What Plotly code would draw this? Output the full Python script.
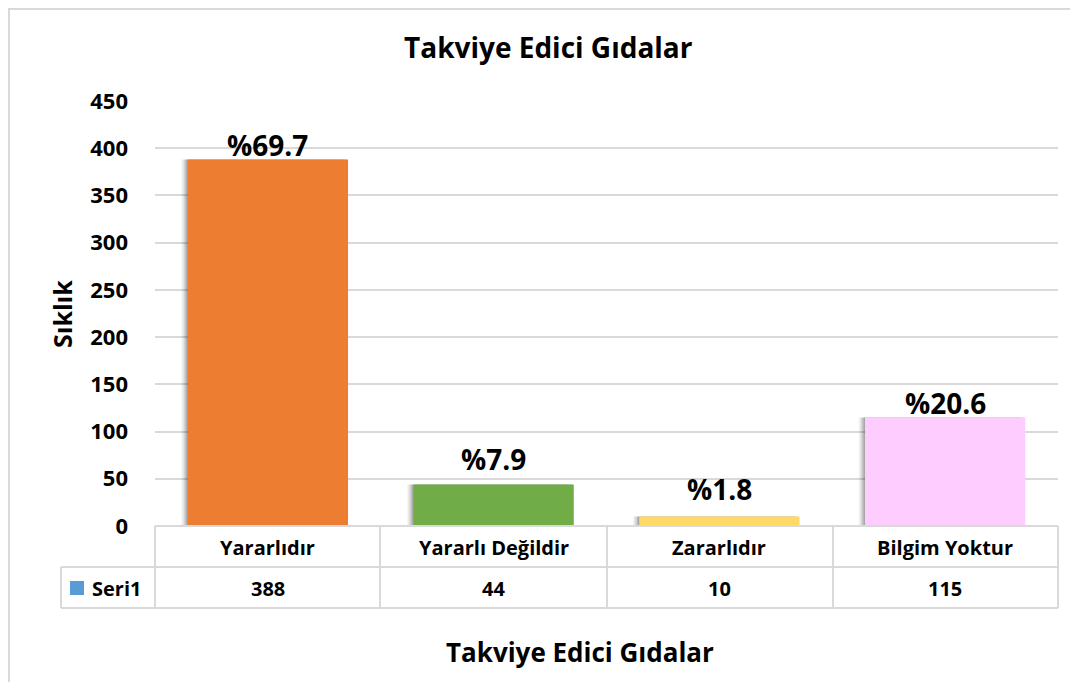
import plotly.graph_objects as go

categories = ["Yararlıdır", "Yararlı Değildir", "Zararlıdır", "Bilgim Yoktur"]
values = [388, 44, 10, 115]
colors = ["#ED7D31", "#70AD47", "#FFD966", "#FFCCFF"]
series_name = "Seri1"
y_ticks = [0, 50, 100, 150, 200, 250, 300, 350, 400, 450]

total = sum(values)
pct = ["%" + f"{v / total * 100:.1f}" for v in values]
label_gap = [15, 25, 28, 14]  # px between bar top and label centre

OFF = 8  # page body margin
W, H = 1078 - OFF, 682 - OFF
L, R, T, B = 155, 1058, 101, 526  # page pixel coordinates of plot area
pw, ph = R - L, B - T


def px(x):
    return (x - L) / pw


def py(y):
    return (B - y) / ph


FONT = "Open Sans"
fig = go.Figure()

# soft shadow on left
cat_px = pw / 4
for k, a in enumerate([0.04, 0.06, 0.08, 0.10, 0.12]):
    fig.add_trace(go.Bar(
        x=categories, y=values, width=0.71, offset=-0.355 - (1.3 * (5 - k)) / cat_px,
        marker=dict(color=f"rgba(0,0,0,{a})", line=dict(width=0)),
        hoverinfo="skip", showlegend=False,
    ))
fig.add_trace(go.Bar(
    x=categories, y=values, width=0.71, offset=-0.355,
    marker=dict(color=colors, line=dict(width=0)),
    showlegend=False, name=series_name,
))

annotations = []
for i, (c, v, p) in enumerate(zip(categories, values, pct)):
    annotations.append(dict(
        x=c, y=v, xref="x", yref="y", text=f"<b>{p}</b>", showarrow=False,
        yanchor="middle", yshift=label_gap[i],
        font=dict(family=FONT, size=28, color="#000"),
    ))
    annotations.append(dict(
        x=c, y=py(547), xref="x", yref="paper", text=f"<b>{c}</b>", showarrow=False,
        yanchor="middle", font=dict(family=FONT, size=20, color="#000"),
    ))
    annotations.append(dict(
        x=c, y=py(588), xref="x", yref="paper", text=f"<b>{v}</b>", showarrow=False,
        yanchor="middle", font=dict(family=FONT, size=20, color="#000"),
    ))

annotations.append(dict(
    x=px(90), y=py(588), xref="paper", yref="paper", text=f"<b>{series_name}</b>",
    showarrow=False, xanchor="left", yanchor="middle",
    font=dict(family=FONT, size=20, color="#000"),
))
annotations.append(dict(
    x=px(580), y=py(652), xref="paper", yref="paper", text="<b>Takviye Edici Gıdalar</b>",
    showarrow=False, xanchor="center", yanchor="middle",
    font=dict(family=FONT, size=26, color="#000"),
))
annotations.append(dict(
    x=px(62), y=py(314), xref="paper", yref="paper", text="<b>Sıklık</b>",
    showarrow=False, textangle=-90, xanchor="center", yanchor="middle",
    font=dict(family=FONT, size=25, color="#000"),
))
annotations.append(dict(
    x=px(548), y=py(47), xref="paper", yref="paper", text="<b>Takviye Edici Gıdalar</b>",
    showarrow=False, xanchor="center", yanchor="middle",
    font=dict(family=FONT, size=28, color="#000"),
))

grid = "#D9D9D9"
shapes = []


def hline(y, x0, x1):
    shapes.append(dict(type="line", xref="paper", yref="paper", x0=px(x0), x1=px(x1),
                       y0=py(y), y1=py(y), line=dict(color=grid, width=2)))


def vline(x, y0, y1):
    shapes.append(dict(type="line", xref="paper", yref="paper", x0=px(x), x1=px(x),
                       y0=py(y0), y1=py(y1), line=dict(color=grid, width=2)))


hline(526, 155, 1058)
hline(567, 61, 1058)
hline(608, 61, 1058)
for xx in [155, 380, 607, 833, 1058]:
    vline(xx, 526, 608)
vline(61, 567, 608)

# legend key
shapes.append(dict(type="rect", xref="paper", yref="paper", x0=px(70), x1=px(84),
                   y0=py(581), y1=py(595), fillcolor="#5B9BD5", line=dict(width=0)))
# outer border
shapes.append(dict(type="rect", xref="paper", yref="paper", x0=px(9), x1=px(1090),
                   y0=py(9), y1=py(700), line=dict(color="#D9D9D9", width=2),
                   layer="below"))

fig.update_layout(
    width=W, height=H,
    margin=dict(l=L - OFF, r=W - (R - OFF), t=T - OFF, b=H - (B - OFF), pad=0),
    paper_bgcolor="white", plot_bgcolor="white",
    barmode="overlay",
    showlegend=False,
    annotations=annotations, shapes=shapes,
    xaxis=dict(showticklabels=False, showgrid=False, zeroline=False, showline=False,
               range=[-0.5, 3.5], fixedrange=True),
    yaxis=dict(range=[0, 450], tickvals=y_ticks, showgrid=True, gridcolor=grid, gridwidth=2,
               zeroline=False, showline=False, ticks="", ticklabelstandoff=26,
               tickfont=dict(family=FONT, size=22, color="#000", weight="bold"),
               fixedrange=True),
)

fig.write_html("out.html")
